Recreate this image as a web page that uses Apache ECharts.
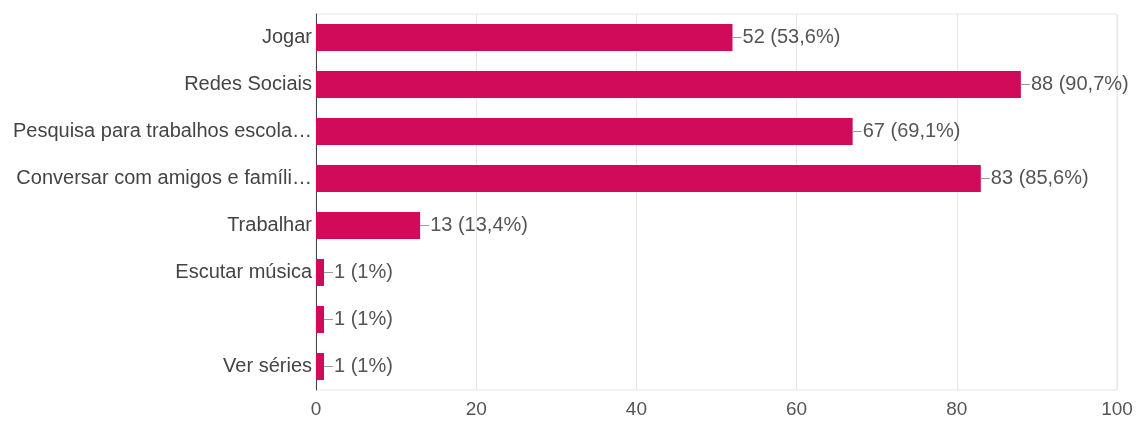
<!DOCTYPE html>
<html>
<head>
<meta charset="utf-8">
<script src="https://cdn.jsdelivr.net/npm/echarts@6/dist/echarts.min.js"></script>
<style>
html,body{margin:0;padding:0;background:#fff;}
#chart{width:1139px;height:421px;}
</style>
</head>
<body>
<div id="chart"></div>
<script>
const categories = ["Jogar", "Redes Sociais", "Pesquisa para trabalhos escola…", "Conversar com amigos e famíli…", "Trabalhar", "Escutar música", "", "Ver séries"];
const counts = [52, 88, 67, 83, 13, 1, 1, 1];
const percents = ["53,6%", "90,7%", "69,1%", "85,6%", "13,4%", "1%", "1%", "1%"];
const xTicks = [0, 20, 40, 60, 80, 100];

const FONT = 'Liberation Sans, Arial, sans-serif';
const chart = echarts.init(document.getElementById('chart'));
chart.setOption({
  animation: false,
  backgroundColor: '#ffffff',
  grid: {left: 316, right: 22, top: 14, bottom: 31, show: true, borderColor: '#e6e6e6', borderWidth: 1},
  xAxis: {
    type: 'value', min: xTicks[0], max: xTicks[xTicks.length - 1], interval: 20,
    axisLine: {show: false}, axisTick: {show: false},
    splitLine: {lineStyle: {color: '#e6e6e6', width: 1}},
    axisLabel: {color: '#555', fontFamily: FONT, fontSize: 19, margin: 10}
  },
  yAxis: {
    type: 'category', data: categories, inverse: true,
    axisLine: {show: true, onZero: false, lineStyle: {color: '#444', width: 1}},
    axisTick: {show: false},
    axisLabel: {color: '#444', fontFamily: FONT, fontSize: 20, margin: 4}
  },
  series: [{
    type: 'bar',
    data: counts,
    barWidth: 27,
    itemStyle: {color: '#d20a5a'},
    label: {
      show: true, position: 'right', distance: 0,
      formatter: p => '{l|}{t|' + p.value + ' (' + percents[p.dataIndex] + ')}',
      rich: {
        l: {width: 9, height: 1, backgroundColor: '#999'},
        t: {color: '#555', fontFamily: FONT, fontSize: 20, padding: [0, 0, 0, 1]}
      }
    }
  }]
});
</script>
</body>
</html>
